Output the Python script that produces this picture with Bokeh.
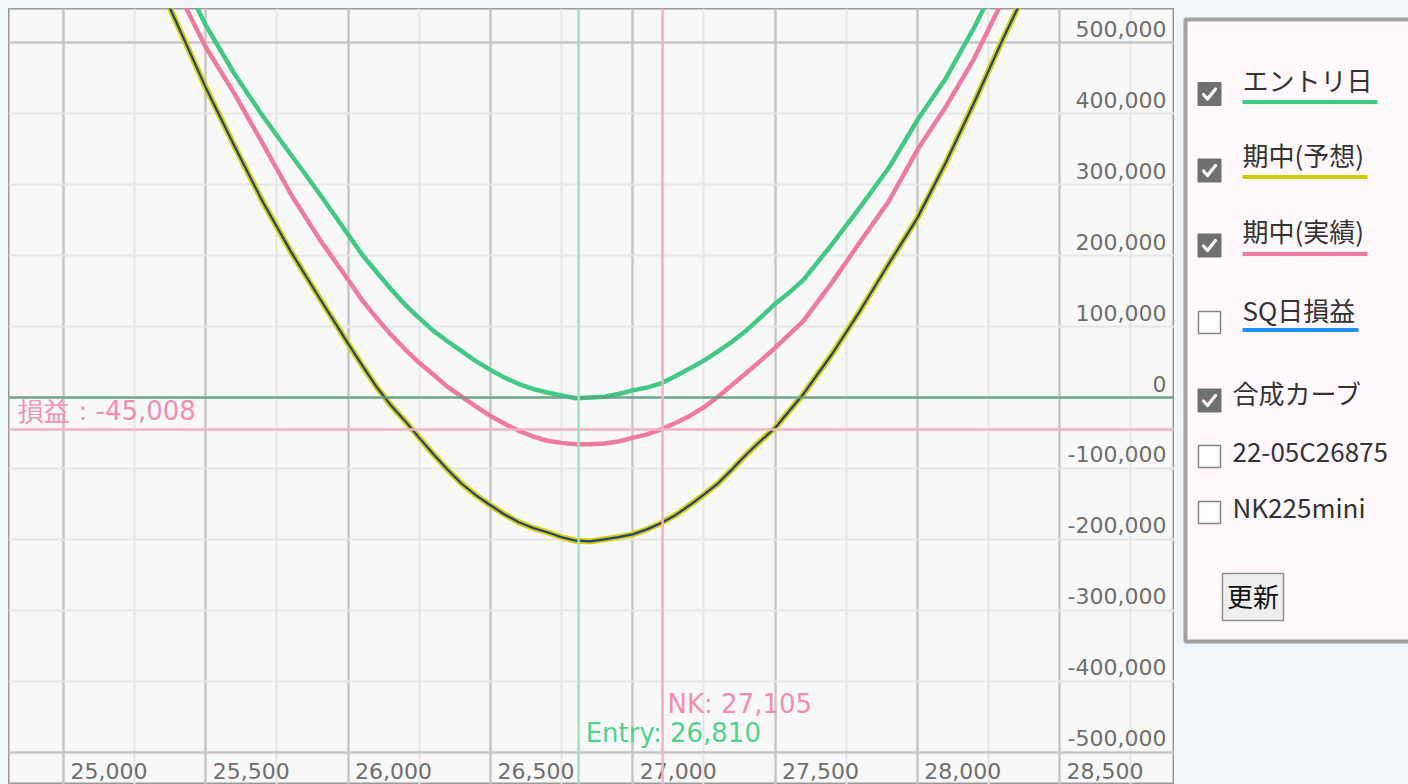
from bokeh.plotting import figure
from bokeh.layouts import row
from bokeh.models import Range1d, FixedTicker, Grid, Span, ColumnDataSource
from bokeh.core.properties import value
from bokeh.embed import file_html
from bokeh.resources import INLINE

# ---------------- data ----------------
strikes = [25300, 25400, 25500, 25600, 25700, 25800, 25900, 26000,
           26050, 26100, 26150, 26200, 26250, 26300, 26350, 26400, 26450, 26500,
           26550, 26600, 26650, 26700, 26750, 26800, 26850, 26900, 26950, 27000,
           27050, 27100, 27150, 27200, 27250, 27300, 27350, 27400, 27450, 27500,
           27550, 27600,
           27700, 27800, 27900, 28000, 28100, 28200, 28300, 28400]

entry_pl = [685000, 605000, 525000, 457000, 397000, 342000, 287000, 230000,
            201000, 177000, 153000, 131000, 112000, 94000, 79000, 65000, 51000, 39000,
            28000, 19000, 12000, 7000, 3000, -1000, 0, 1000, 5000, 10000,
            14000, 20000, 30000, 41000, 52000, 65000, 79000, 95000, 113000, 132000,
            148000, 166000,
            216000, 269000, 324000, 391000, 450000, 522000, 602000, 685000]

mid_forecast_pl = [615000, 526000, 437000, 355000, 276000, 205000, 140000, 76000,
                   45000, 15000, -11000, -33000, -57000, -80000, -102000, -122000, -138000, -152000,
                   -165000, -176000, -184000, -190000, -197000, -202000, -203000, -200000, -197000, -193000,
                   -186000, -177000, -166000, -152000, -137000, -121000, -101000, -80000, -61000, -43000,
                   -19000, 5000,
                   61000, 123000, 189000, 253000, 331000, 416000, 505000, 589000]

mid_actual_pl = [652000, 574000, 494000, 429000, 358000, 286000, 223000, 166000,
                 137000, 112000, 89000, 68000, 49000, 32000, 15000, 1000, -13000, -26000,
                 -37000, -47000, -55000, -61000, -64000, -66000, -66000, -65000, -62000, -57000,
                 -52000, -45000, -36000, -26000, -14000, 1000, 18000, 35000, 52000, 70000,
                 89000, 108000,
                 162000, 220000, 277000, 349000, 410000, 478000, 560000, 640000]

combined_pl = list(mid_forecast_pl)

entry_price = 26810
nk_price = 27105
current_pl = -45008

x_ticks = [25000, 25500, 26000, 26500, 27000, 27500, 28000, 28500]
x_minor = [25250, 25750, 26250, 26750, 27250, 27750, 28250, 28750]
y_ticks = [500000, 400000, 300000, 200000, 100000, 0, -100000, -200000, -300000, -400000, -500000]
x_labels = ["25,000", "25,500", "26,000", "26,500", "27,000", "27,500", "28,000", "28,500"]
y_labels = ["500,000", "400,000", "300,000", "200,000", "100,000", "0", "-100,000",
            "-200,000", "-300,000", "-400,000", "-500,000"]

legend_names = ["エントリ日", "期中(予想)", "期中(実績)", "SQ日損益", "合成カーブ", "22-05C26875", "NK225mini"]
legend_checked = [True, True, True, False, True, False, False]
legend_line_colors = ["#3fca7e", "#cccc00", "#ef7aa0", "#1e90ff", None, None, None]
button_text = "更新"

# ---------------- styles ----------------
PAGE_BG = "#f0f5fa"
GREEN = "#41c882"
PINK = "#ef7aa0"
YELLOW = "#d4d000"
NAVY = "#22408a"
TICK_COLOR = "#6e6e6e"
LATIN_FONT = value("DejaVu Sans")
CJK_FONT = value("Noto Sans CJK JP")

X0, X1 = 24806.7, 28903.7
Y0, Y1 = -545839, 548660

p = figure(width=1166, height=776, x_range=Range1d(X0, X1), y_range=Range1d(Y0, Y1),
           x_axis_type=None, y_axis_type=None, output_backend="svg",
           toolbar_location=None, min_border=0)
p.background_fill_color = "#f8f8f8"
p.border_fill_color = PAGE_BG
p.outline_line_color = "#9a9a9a"
p.outline_line_width = 2

p.add_layout(Grid(dimension=0, ticker=FixedTicker(ticks=x_ticks, minor_ticks=x_minor),
                  grid_line_color="#c6c6c6", grid_line_width=2.5,
                  minor_grid_line_color="#e6e6e6", minor_grid_line_width=2))
p.add_layout(Grid(dimension=1, ticker=FixedTicker(ticks=[y_ticks[0], y_ticks[-1]], minor_ticks=y_ticks[1:-1]),
                  grid_line_color="#c6c6c6", grid_line_width=2.5,
                  minor_grid_line_color="#e6e6e6", minor_grid_line_width=2))

# reference lines
p.add_layout(Span(location=0, dimension="width", line_color="#5e9f82", line_width=2.5, line_alpha=0.9))
p.add_layout(Span(location=current_pl, dimension="width", line_color="#f5b0c6", line_width=2.5))
p.add_layout(Span(location=entry_price, dimension="height", line_color="#9de3bd", line_width=2.5))
p.add_layout(Span(location=nk_price, dimension="height", line_color="#f5b0c6", line_width=2.5))

src = ColumnDataSource(dict(x=strikes, entry=entry_pl, fc=mid_forecast_pl, act=mid_actual_pl, comb=combined_pl))
p.line("x", "entry", source=src, line_color=GREEN, line_width=4.5, line_join="round")
p.line("x", "act", source=src, line_color=PINK, line_width=4.5, line_join="round")
p.line("x", "fc", source=src, line_color=YELLOW, line_width=6, line_join="round")
p.line("x", "comb", source=src, line_color=NAVY, line_width=2.2, line_join="round")

# tick labels drawn inside the frame
p.text(x=[X1] * len(y_ticks), y=y_ticks, text=y_labels, text_align="right", text_baseline="alphabetic",
       x_offset=-8, y_offset=-14, text_font=LATIN_FONT, text_font_size="22px", text_color=TICK_COLOR)
p.text(x=x_ticks, y=[Y0] * len(x_ticks), text=x_labels, text_align="left", text_baseline="alphabetic",
       x_offset=7, y_offset=-14, text_font=LATIN_FONT, text_font_size="22px", text_color=TICK_COLOR)

# annotations
p.text(x=[X0], y=[current_pl], text=[f"損益：{current_pl:,}"], text_align="left", text_baseline="alphabetic",
       x_offset=9, y_offset=-18, text_font=LATIN_FONT, text_font_size="26px", text_color="#f38db0")
p.text(x=[nk_price], y=[Y0], text=[f"NK: {nk_price:,}"], text_align="left", text_baseline="alphabetic",
       x_offset=5, y_offset=-81, text_font=LATIN_FONT, text_font_size="26px", text_color="#f38db0")
p.text(x=[entry_price], y=[Y0], text=[f"Entry: {entry_price:,}"], text_align="left", text_baseline="alphabetic",
       x_offset=7, y_offset=-52, text_font=LATIN_FONT, text_font_size="26px", text_color="#4fd38c")

# ---------------- legend / control panel ----------------
q = figure(width=234, height=776, x_range=Range1d(1174, 1408), y_range=Range1d(784, 8),
           x_axis_type=None, y_axis_type=None, output_backend="svg",
           toolbar_location=None, min_border=0)
q.background_fill_color = PAGE_BG
q.border_fill_color = PAGE_BG
q.outline_line_color = None
q.grid.visible = False

q.quad(left=[1185], right=[1440], top=[19], bottom=[641], fill_color="#fff8fc",
       line_color="#a0a0a0", line_width=4)

row_y = [93.5, 170, 245, 322, 400, 456, 512]
text_y = [79, 154, 230, 309, 392, 450, 506]
box_x = 1209
for i, name in enumerate(legend_names):
    cy = row_y[i]
    if legend_checked[i]:
        q.rect(x=[box_x], y=[cy], width=23, height=23, fill_color="#707070", line_color="#707070", line_width=1)
        q.line(x=[box_x - 6, box_x - 2, box_x + 6], y=[cy + 0.5, cy + 5, cy - 5],
               line_color="white", line_width=3.2, line_join="round", line_cap="round")
    else:
        q.rect(x=[box_x], y=[cy], width=22, height=22, fill_color="white", line_color="#858585", line_width=1.5)
    tx = 1242 if legend_line_colors[i] else 1232
    q.text(x=[tx], y=[text_y[i]], text=[name], text_align="left", text_baseline="middle",
           text_font=CJK_FONT, text_font_size="26px", text_color="#333333")

ul_right = [1377, 1367, 1367, 1358]
ul_y = [101.5, 176.5, 253.5, 329.5]
for i in range(4):
    q.segment(x0=[1242], y0=[ul_y[i]], x1=[ul_right[i]], y1=[ul_y[i]],
              line_color=legend_line_colors[i], line_width=4)

q.quad(left=[1222], right=[1283], top=[573], bottom=[620], fill_color="#efefef",
       line_color="#8f8f8f", line_width=1.5)
q.text(x=[1252.5], y=[595], text=[button_text], text_align="center", text_baseline="middle",
       text_font=CJK_FONT, text_font_size="26px", text_color="#111111")

layout = row(p, q)
html = file_html(layout, INLINE, title="chart")
html = html.replace("</head>",
                    "<style>html,body{background:%s;}body{margin:8px 0 0 8px;overflow:hidden;}</style></head>" % PAGE_BG, 1)
open("out.html", "w").write(html)
